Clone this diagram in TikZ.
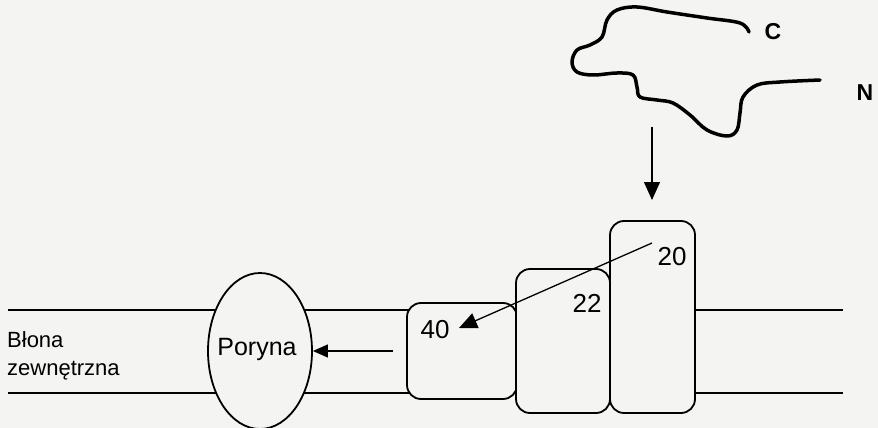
\documentclass[tikz,border=0pt]{standalone}
\usepackage{fontspec}
\setmainfont{Liberation Sans}
\usetikzlibrary{arrows.meta,shapes.geometric}

\definecolor{tlo}{RGB}{244,244,242}
\tikzset{
  blona/.style={line width=1.8pt},
  blok/.style={draw,line width=1.8pt,rounded corners=14pt,fill=tlo,inner sep=0pt},
  poryna/.style={draw,ellipse,line width=1.8pt,fill=tlo,inner sep=0pt,
    minimum width=104pt,minimum height=156pt},
  liczba/.style={font=\fontsize{26}{30}\selectfont,inner sep=0pt},
  koniec/.style={font=\fontsize{23}{26}\selectfont\bfseries,inner sep=0pt},
  strz/.style={line width=1.3pt,-{Triangle[length=18pt,width=16pt]}}
}

\begin{document}
\begin{tikzpicture}[x=1pt,y=-1pt]

\fill[tlo] (0,0) rectangle (878,428);
\useasboundingbox (0,0) rectangle (878,428);

\draw[blona] (8,310) -- (843,310);
\draw[blona] (8,393) -- (843,393);

\node[poryna] (por) at (260,351) {};
\node[font=\fontsize{25}{28}\selectfont,inner sep=0pt] (tpor) at (257,349) {Poryna};
\node[blok,minimum width=110pt,minimum height=96pt] (b40) at (462,351) {};
\node[blok,minimum width=94pt,minimum height=144pt] (b22) at (563,341) {};
\node[blok,minimum width=85pt,minimum height=192pt] (b20) at (652.5,317) {};

\node[liczba] (n40) at (435,330) {40};
\node[liczba] (n22) at (587,303) {22};
\node[liczba] (n20) at (672,257) {20};

\node[align=left,anchor=west,inner sep=0pt,font=\fontsize{22}{28}\selectfont] (opis) at (7,356) {Błona\\zewnętrzna};

\draw[line width=3.5pt,line cap=round,line join=round] plot[smooth,tension=0.6] coordinates {
  (749,32) (740,23) (707,18) (667,12) (637,7) (617,10) (607,20) (602,37)
  (590,45) (577,50) (572,62) (577,72) (593,75) (617,73) (633,75) (637,87)
  (640,97) (657,100) (673,103) (690,115) (707,130) (727,136) (737,130)
  (740,113) (743,97) (757,85) (780,82) (820,80)};
\node[koniec] (c) at (773,32) {C};
\node[koniec] (n) at (865,93) {N};

\coordinate (bialko) at (652,127);
\coordinate (wejscie) at (652,200);
\draw[strz] (bialko) -- (wejscie);

\coordinate (start) at (652,243);
\coordinate (cel) at (459,328);
\draw[strz] (start) -- (cel);

\coordinate (ogon) at (393,351);
\draw[strz,-{Triangle[length=15pt,width=13pt]}] (ogon) -- (por.east);

\end{tikzpicture}
\end{document}
